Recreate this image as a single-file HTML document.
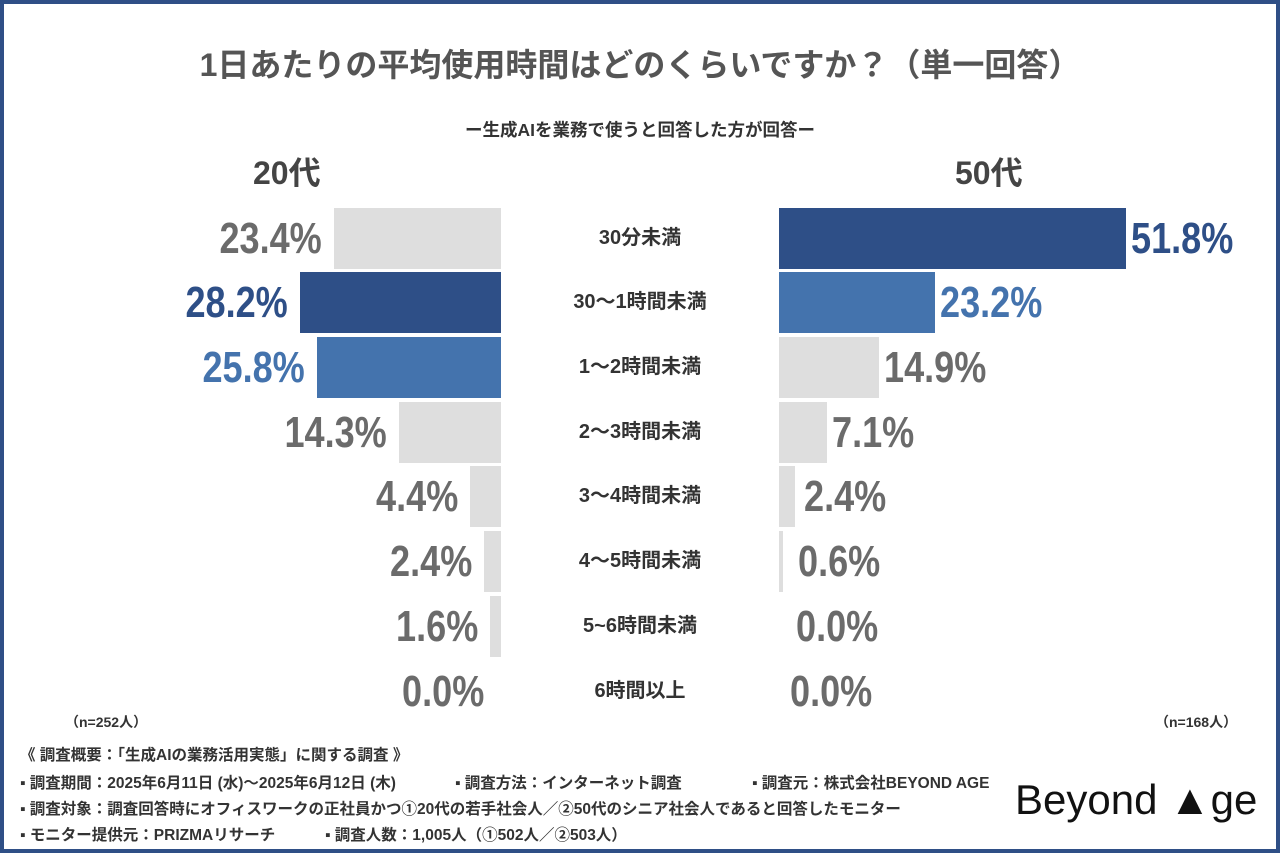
<!DOCTYPE html>
<html><head><meta charset="utf-8"><style>
body{margin:0;width:1280px;height:853px;background:#fff;overflow:hidden;font-family:"Liberation Sans","Noto Sans CJK JP",sans-serif;}
.frame{position:absolute;left:0;top:0;width:1272px;height:845px;border:4px solid #2f4f86;}
.t{position:absolute;white-space:nowrap;}
.bar{position:absolute;height:61px;}
.g{background:#dedede}.d{background:#2e4f87}.m{background:#4473ad}
.v{position:absolute;font-weight:bold;font-size:44px;color:#6b6b6b;line-height:61px;transform:scaleX(0.82);}
.l{transform-origin:right center}.r{transform-origin:left center}
.c{position:absolute;left:520px;width:240px;text-align:center;font-weight:bold;font-size:20px;color:#333;line-height:61px;}
.f{position:absolute;left:20px;font-size:15.5px;font-weight:bold;color:#333;white-space:nowrap;}
</style></head><body>
<div class="frame"></div>
<div class="t" style="left:0;width:1280px;text-align:center;top:40px;font-size:32px;font-weight:bold;color:#555;">1日あたりの平均使用時間はどのくらいですか？（単一回答）</div>
<div class="t" style="left:0;width:1280px;text-align:center;top:117px;font-size:17.5px;font-weight:bold;color:#333;">ー生成AIを業務で使うと回答した方が回答ー</div>
<div class="t" style="left:253px;top:148px;font-size:32px;font-weight:bold;color:#444;">20代</div>
<div class="t" style="left:955px;top:148px;font-size:32px;font-weight:bold;color:#444;">50代</div>

<div class="bar g" style="left:334px;width:167px;top:208px"></div><div class="v l" style="right:958px;top:208px">23.4%</div>
<div class="bar d" style="left:300px;width:201px;top:272px"></div><div class="v l" style="right:992px;top:272px;color:#2e4f87">28.2%</div>
<div class="bar m" style="left:317px;width:184px;top:337px"></div><div class="v l" style="right:975px;top:337px;color:#4473ad">25.8%</div>
<div class="bar g" style="left:399px;width:102px;top:402px"></div><div class="v l" style="right:893px;top:402px">14.3%</div>
<div class="bar g" style="left:470px;width:31px;top:466px"></div><div class="v l" style="right:822px;top:466px">4.4%</div>
<div class="bar g" style="left:484px;width:17px;top:531px"></div><div class="v l" style="right:808px;top:531px">2.4%</div>
<div class="bar g" style="left:490px;width:11px;top:596px"></div><div class="v l" style="right:802px;top:596px">1.6%</div>
<div class="v l" style="right:796px;top:661px">0.0%</div>

<div class="c" style="top:208px">30分未満</div>
<div class="c" style="top:272px">30～1時間未満</div>
<div class="c" style="top:337px">1～2時間未満</div>
<div class="c" style="top:402px">2～3時間未満</div>
<div class="c" style="top:466px">3～4時間未満</div>
<div class="c" style="top:531px">4～5時間未満</div>
<div class="c" style="top:596px">5~6時間未満</div>
<div class="c" style="top:661px">6時間以上</div>

<div class="bar d" style="left:779px;width:347px;top:208px"></div><div class="v r" style="left:1131px;top:208px;color:#2e4f87">51.8%</div>
<div class="bar m" style="left:779px;width:156px;top:272px"></div><div class="v r" style="left:940px;top:272px;color:#4473ad">23.2%</div>
<div class="bar g" style="left:779px;width:100px;top:337px"></div><div class="v r" style="left:884px;top:337px">14.9%</div>
<div class="bar g" style="left:779px;width:48px;top:402px"></div><div class="v r" style="left:832px;top:402px">7.1%</div>
<div class="bar g" style="left:779px;width:16px;top:466px"></div><div class="v r" style="left:804px;top:466px">2.4%</div>
<div class="bar g" style="left:779px;width:4px;top:531px"></div><div class="v r" style="left:798px;top:531px">0.6%</div>
<div class="v r" style="left:796px;top:596px">0.0%</div>
<div class="v r" style="left:790px;top:661px">0.0%</div>

<div class="t" style="left:65px;top:712px;font-size:14px;font-weight:bold;color:#333;">（n=252人）</div>
<div class="t" style="left:1155px;top:712px;font-size:14px;font-weight:bold;color:#333;">（n=168人）</div>

<div class="f" style="top:743px;">《 調査概要：「生成AIの業務活用実態」に関する調査 》</div>
<div class="f" style="top:771px;">▪ 調査期間：2025年6月11日 (水)～2025年6月12日 (木)</div>
<div class="f" style="top:771px;left:455px;">▪ 調査方法：インターネット調査</div>
<div class="f" style="top:771px;left:752px;">▪ 調査元：株式会社BEYOND AGE</div>
<div class="f" style="top:797px;">▪ 調査対象：調査回答時にオフィスワークの正社員かつ①20代の若手社会人／②50代のシニア社会人であると回答したモニター</div>
<div class="f" style="top:823px;">▪ モニター提供元：PRIZMAリサーチ</div>
<div class="f" style="top:823px;left:325px;">▪ 調査人数：1,005人（①502人／②503人）</div>
<div class="t" style="left:1015px;top:776px;font-size:42px;color:#111;">Beyond ▲ge</div>
</body></html>
